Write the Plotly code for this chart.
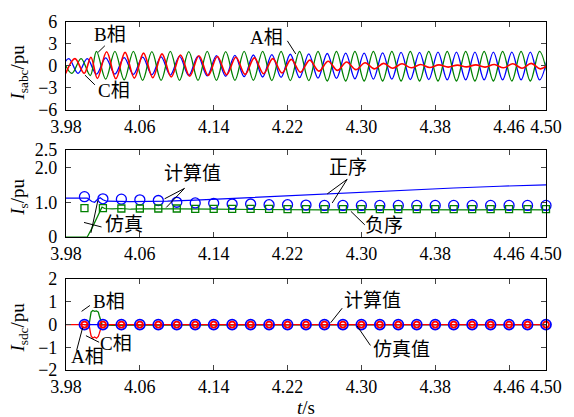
import plotly.graph_objects as go

# ---------------- common time axis ----------------
T_RANGE = [3.98, 4.50]
X_TICKS = [3.98, 4.06, 4.14, 4.22, 4.30, 4.38, 4.46, 4.50]
X_TICK_TEXT = ["3.98", "4.06", "4.14", "4.22", "4.30", "4.38", "4.46", "4.50"]
HALF_PERIOD = 0.01  # 50 Hz waveform, spacing between successive extrema

# ---------------- top panel: phase currents (extrema of each half cycle) ----------------
a_first = 3.973
a_ext = [-1.0, 1.0, -1.0, 1.0, -1.1, 1.1, -1.1, 1.15, -1.15, 1.2,
         -1.2, 1.25, -1.25, 1.3, -1.3, 1.35, -1.35, 1.4, -1.4, 1.45,
         -1.45, 1.5, -1.5, 1.55, -1.55, 1.6, -1.6, 1.65, -1.65, 1.7,
         -1.7, 1.75, -1.75, 1.75, -1.8, 1.8, -1.8, 1.85, -1.85, 1.85,
         -1.85, 1.9, -1.9, 1.9, -1.9, 1.9, -1.9, 1.9, -1.9, 1.9,
         -1.9, 1.9, -1.9, 1.9]

b_pre_t = [3.9763, 3.9863, 3.9963, 4.0063]
b_pre = [1.0, -1.0, 1.0, -1.3]
b_post_first = 4.013
b_post = [2.0, -1.8, 2.0, -1.9, 2.0, -1.95, 1.95, -1.95, 2.0, -1.95,
          1.95, -1.95, 2.0, -1.95, 1.95, -1.95, 2.0, -1.95, 2.0, -2.0,
          2.0, -2.0, 2.0, -2.0, 2.0, -2.05, 2.0, -2.05, 2.0, -2.05,
          2.0, -2.05, 2.0, -2.05, 2.0, -2.05, 2.0, -2.05, 2.0, -2.05,
          2.0, -2.05, 2.0, -2.05, 2.0, -2.05, 2.0, -2.05, 2.0, -2.05]

c_pre_t = [3.9797, 3.9897, 3.9997, 4.007]
c_pre = [-1.0, 1.0, -1.0, 1.2]
c_post_first = 4.014
c_post = [-1.7, 1.95, -1.75, 1.85, -1.65, 1.75, -1.6, 1.65, -1.5, 1.5,
          -1.4, 1.4, -1.3, 1.3, -1.2, 1.2, -1.15, 1.1, -1.05, 1.0,
          -0.95, 0.9, -0.85, 0.8, -0.7, 0.65, -0.6, 0.55, -0.5, 0.45,
          -0.4, 0.35, -0.3, 0.3, -0.25, 0.2, -0.2, 0.15, -0.15, 0.12,
          -0.12, 0.15, -0.15, 0.2, -0.25, 0.3, -0.3, 0.35, -0.4, 0.4]

a_t = [a_first + HALF_PERIOD * k for k in range(len(a_ext))]
b_t = b_pre_t + [b_post_first + HALF_PERIOD * k for k in range(len(b_post))]
b_v = b_pre + b_post
c_t = c_pre_t + [c_post_first + HALF_PERIOD * k for k in range(len(c_post))]
c_v = c_pre + c_post

# ---------------- middle panel: sequence components ----------------
pos_sim_t = [3.98, 4.003, 4.008, 4.011, 4.014, 4.017, 4.020, 4.024, 4.05, 4.09,
             4.12, 4.16, 4.21, 4.26, 4.30, 4.35, 4.40, 4.45, 4.50]
pos_sim = [1.12, 1.12, 1.02, 1.00, 1.08, 1.13, 1.07, 1.03, 1.02, 1.03,
           1.06, 1.11, 1.19, 1.24, 1.29, 1.36, 1.41, 1.46, 1.50]

neg_sim_t = [3.98, 4.003, 4.008, 4.013, 4.0175, 4.019, 4.022, 4.03, 4.04, 4.05,
             4.06, 4.08, 4.10, 4.14, 4.18, 4.22, 4.26, 4.30, 4.34, 4.38,
             4.42, 4.46, 4.50]
neg_sim = [0.0, 0.0, 0.25, 0.55, 0.82, 0.86, 0.82, 0.81, 0.82, 0.80,
           0.81, 0.80, 0.81, 0.80, 0.79, 0.80, 0.78, 0.79, 0.78, 0.79,
           0.78, 0.79, 0.78]

calc_t = [round(4.00 + 0.02 * k, 2) for k in range(26)]
pos_calc = [1.16, 1.10, 1.09, 1.07, 1.05, 1.00, 0.98, 0.97, 0.95, 0.95,
            0.93, 0.93, 0.92, 0.91, 0.91, 0.91, 0.91, 0.91, 0.91, 0.91,
            0.91, 0.91, 0.91, 0.91, 0.91, 0.91]
neg_calc = [0.83, 0.83, 0.82, 0.82, 0.82, 0.82, 0.81, 0.81, 0.81, 0.81,
            0.81, 0.80, 0.80, 0.80, 0.80, 0.80, 0.80, 0.80, 0.80, 0.80,
            0.80, 0.80, 0.80, 0.80, 0.80, 0.80]

# ---------------- bottom panel: dc components ----------------
dc_a_t = [4.0, 4.50]
dc_a = [0.0, 0.0]
dc_b_t = [4.0, 4.005, 4.0062, 4.0072, 4.009, 4.011, 4.013, 4.015, 4.016, 4.0175,
          4.019, 4.03, 4.05, 4.50]
dc_b = [0.0, 0.0, 0.3, 0.55, 0.62, 0.58, 0.6, 0.55, 0.4, 0.2,
        0.0, -0.03, -0.02, 0.0]
dc_c_t = [3.98, 4.005, 4.0062, 4.0072, 4.009, 4.011, 4.013, 4.015, 4.016, 4.0175,
          4.019, 4.50]
dc_c = [0.0, 0.0, -0.3, -0.5, -0.6, -0.55, -0.6, -0.52, -0.4, -0.2,
        0.0, 0.0]
dc_calc = [0.0] * 26

# ---------------- styling ----------------
BLUE = "rgb(0,0,255)"
GREEN = "rgb(0,128,0)"
RED = "rgb(255,0,0)"
NUM_FONT = "Liberation Serif"
CJK_FONT = "Liberation Serif, Noto Sans CJK SC"
TICK_SIZE = 18
TXT = 19

fig = go.Figure()

# top
for t, v, col, w in [(a_t, a_ext, BLUE, 1.3), (b_t, b_v, GREEN, 1.3), (c_t, c_v, RED, 1.6)]:
    fig.add_trace(go.Scatter(x=t, y=v, mode="lines",
                             line=dict(color=col, width=w, shape="spline", smoothing=1),
                             xaxis="x3", yaxis="y3", showlegend=False))

# middle
fig.add_trace(go.Scatter(x=pos_sim_t, y=pos_sim, mode="lines", line=dict(color=BLUE, width=1.2),
                         xaxis="x2", yaxis="y2", showlegend=False))
fig.add_trace(go.Scatter(x=neg_sim_t, y=neg_sim, mode="lines", line=dict(color=GREEN, width=1.2),
                         xaxis="x2", yaxis="y2", showlegend=False))
fig.add_trace(go.Scatter(x=calc_t, y=pos_calc, mode="markers",
                         marker=dict(symbol="circle-open", size=10, color=BLUE, line=dict(width=1.3)),
                         xaxis="x2", yaxis="y2", showlegend=False, cliponaxis=False))
fig.add_trace(go.Scatter(x=calc_t, y=neg_calc, mode="markers",
                         marker=dict(symbol="square-open", size=7, color=GREEN, line=dict(width=1.3)),
                         xaxis="x2", yaxis="y2", showlegend=False, cliponaxis=False))

# bottom
fig.add_trace(go.Scatter(x=dc_a_t, y=dc_a, mode="lines", line=dict(color=BLUE, width=1.3),
                         xaxis="x", yaxis="y", showlegend=False))
fig.add_trace(go.Scatter(x=dc_b_t, y=dc_b, mode="lines", line=dict(color=GREEN, width=1.3),
                         xaxis="x", yaxis="y", showlegend=False))
fig.add_trace(go.Scatter(x=dc_c_t, y=dc_c, mode="lines", line=dict(color=RED, width=1.3),
                         xaxis="x", yaxis="y", showlegend=False))
fig.add_trace(go.Scatter(x=calc_t, y=dc_calc, mode="markers",
                         marker=dict(symbol="circle-open", size=10, color=BLUE, line=dict(width=1.8)),
                         xaxis="x", yaxis="y", showlegend=False, cliponaxis=False))
fig.add_trace(go.Scatter(x=calc_t, y=dc_calc, mode="markers",
                         marker=dict(symbol="circle-open", size=6, color=RED, line=dict(width=1.8)),
                         xaxis="x", yaxis="y", showlegend=False, cliponaxis=False))


def x_axis(anchor):
    return dict(range=T_RANGE, tickvals=X_TICKS, ticktext=X_TICK_TEXT, ticks="inside", ticklen=5,
                showline=True, linecolor="black", linewidth=1.2, mirror="ticks", showgrid=False,
                zeroline=False, anchor=anchor, tickfont=dict(family=NUM_FONT, size=TICK_SIZE, color="black"),
                ticklabelstandoff=0)


def y_axis(anchor, domain, rng, vals, text):
    return dict(range=rng, domain=domain, tickvals=vals, ticktext=text, ticks="inside", ticklen=5,
                showline=True, linecolor="black", linewidth=1.2, mirror="ticks", showgrid=False,
                zeroline=False, anchor=anchor, tickfont=dict(family=NUM_FONT, size=TICK_SIZE, color="black"),
                ticklabelstandoff=4)


fig.update_layout(
    width=574, height=417,
    margin=dict(l=66, r=26, t=14, b=47),
    paper_bgcolor="white", plot_bgcolor="white",
    xaxis=x_axis("y"),
    yaxis=y_axis("x", [0.0, 0.2612], [-2, 2], [-2, -1, 0, 1, 2], ["\u22122", "\u22121", "0", "1", "2"]),
    xaxis2=x_axis("y2"),
    yaxis2=y_axis("x2", [0.382, 0.632], [0, 2.5], [0, 1, 2, 2.5], ["0", "1.0", "2.0", "2.5"]),
    xaxis3=x_axis("y3"),
    yaxis3=y_axis("x3", [0.7472, 1.0], [-6, 6], [-6, -3, 0, 3, 6], ["\u22126", "\u22123", "0", "3", "6"]),
)

# leader lines (t, value) pairs per panel
leaders = [
    ("x3", "y3", 4.0148, 1.87, 4.0221, 2.76),
    ("x3", "y3", 4.0005, -1.24, 4.0113, -2.57),
    ("x3", "y3", 4.2198, 3.43, 4.2289, 1.64),
    ("x2", "y2", 4.1084, 1.40, 4.0868, 1.10),
    ("x2", "y2", 4.1084, 1.40, 4.0886, 0.85),
    ("x2", "y2", 4.0070, 0.12, 4.0145, 1.05),
    ("x2", "y2", 3.9995, 0.42, 4.0185, 0.29),
    ("x2", "y2", 4.2846, 1.66, 4.2630, 1.24),
    ("x2", "y2", 4.2846, 1.66, 4.2684, 0.98),
    ("x2", "y2", 4.3037, 0.35, 4.2886, 0.74),
    ("x", "y", 3.9969, 0.58, 4.0059, 0.84),
    ("x", "y", 4.0016, -0.49, 4.0159, -0.78),
    ("x", "y", 3.9915, -1.14, 3.9980, -0.14),
    ("x", "y", 4.2792, 0.72, 4.2667, 0.08),
    ("x", "y", 4.3098, -0.92, 4.2953, -0.06),
]
for xr, yr, x0, y0, x1, y1 in leaders:
    fig.add_shape(type="line", xref=xr, yref=yr, x0=x0, y0=y0, x1=x1, y1=y1,
                  line=dict(color="black", width=1))

labels = [
    ("x3", "y3", 4.028, 4.33, "B相"),
    ("x3", "y3", 4.0318, -3.33, "C相"),
    ("x3", "y3", 4.1974, 3.87, "A相"),
    ("x2", "y2", 4.1165, 1.84, "计算值"),
    ("x2", "y2", 4.0426, 0.37, "仿真"),
    ("x2", "y2", 4.2853, 2.00, "正序"),
    ("x2", "y2", 4.3242, 0.33, "负序"),
    ("x", "y", 4.0264, 1.01, "B相"),
    ("x", "y", 4.0339, -0.82, "C相"),
    ("x", "y", 4.0032, -1.40, "A相"),
    ("x", "y", 4.3123, 1.05, "计算值"),
    ("x", "y", 4.3436, -1.10, "仿真值"),
]
for xr, yr, x, y, s in labels:
    fig.add_annotation(xref=xr, yref=yr, x=x, y=y, text=s, showarrow=False,
                       font=dict(family=CJK_FONT, size=TXT, color="black"),
                       xanchor="center", yanchor="middle")

# axis titles
titles = [
    (-0.0985, 0.854, "<i>I</i><sub>sabc</sub>/pu"),
    (-0.0985, 0.497, "<i>I</i><sub>s</sub>/pu"),
    (-0.0985, 0.121, "<i>I</i><sub>sdc</sub>/pu"),
]
for x, y, s in titles:
    fig.add_annotation(xref="paper", yref="paper", x=x, y=y, text=s, showarrow=False, textangle=-90,
                       font=dict(family=NUM_FONT, size=TXT, color="black"),
                       xanchor="center", yanchor="middle")
fig.add_annotation(xref="paper", yref="paper", x=0.5, y=-0.108, text="<i>t</i>/s", showarrow=False,
                   font=dict(family=NUM_FONT, size=TXT, color="black"), xanchor="center", yanchor="middle")

fig.write_html("out.html")
